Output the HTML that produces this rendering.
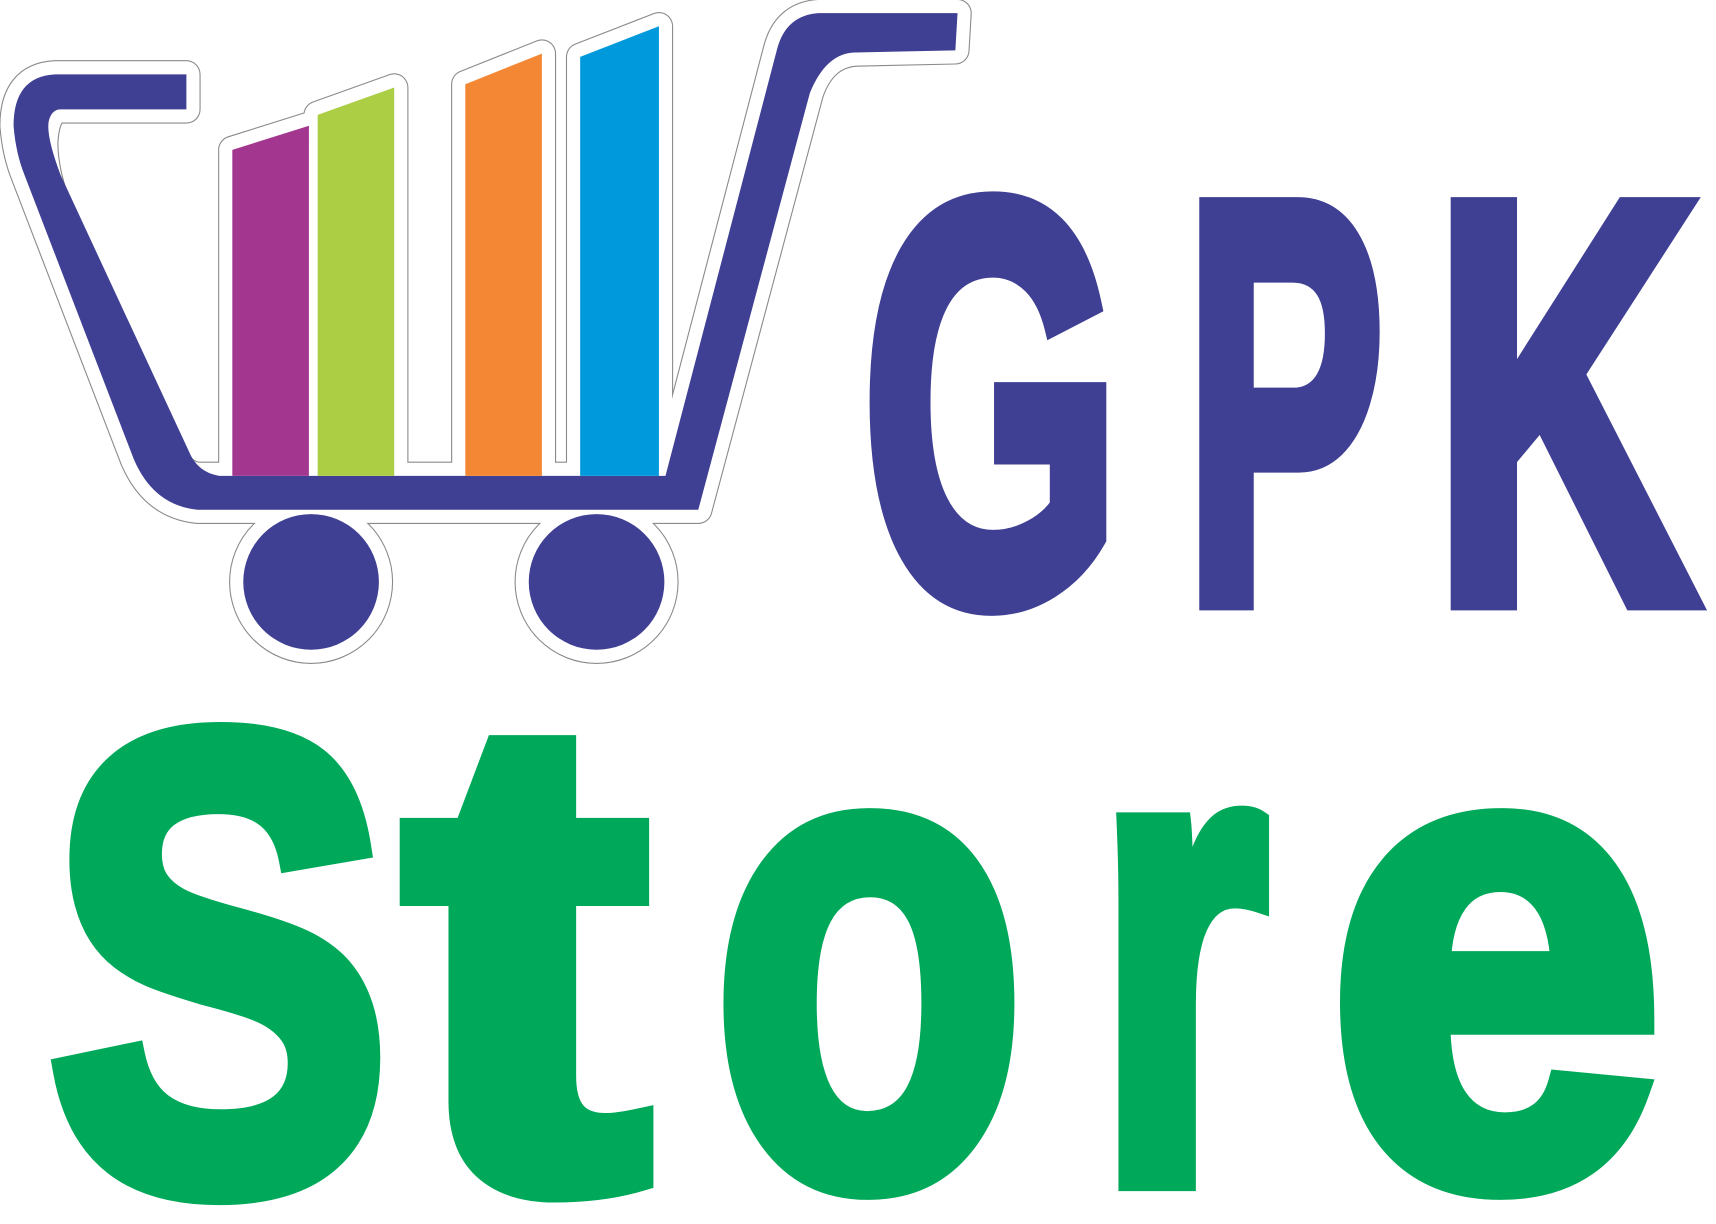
<!DOCTYPE html>
<html><head><meta charset="utf-8"><style>
html,body{margin:0;padding:0;background:#fff;width:1716px;height:1224px;overflow:hidden}
svg{display:block}
text{font-family:"Liberation Sans",sans-serif;font-weight:bold}
</style></head><body>
<svg width="1716" height="1224" viewBox="0 0 1568 1119">
<g stroke-linejoin="round" fill="none">
 <g stroke="#8a8a8a" stroke-width="26">
  <path d="M875,12 L748,12 Q718,14 710,45 L608,435 L180,435 Q160,432 150,400 L55,195 Q40,160 40,130 Q42,100 55,100 L170,100 L170,68 L50,68 Q12,70 12,115 Q14,140 22,160 L122,420 Q140,462 180,466 L638,466 L740,85 Q752,50 782,48 L873,46 Z"/>
  <polygon points="212,137 282,115 282,435 212,435"/><polygon points="290,105 360,80 360,435 290,435"/>
  <polygon points="425,77 495,49 495,435 425,435"/><polygon points="530,52 602,24 602,435 530,435"/>
  <circle cx="284" cy="532" r="62"/><circle cx="545" cy="532" r="62"/>
 </g>
 <g stroke="#fff" stroke-width="24">
  <path d="M875,12 L748,12 Q718,14 710,45 L608,435 L180,435 Q160,432 150,400 L55,195 Q40,160 40,130 Q42,100 55,100 L170,100 L170,68 L50,68 Q12,70 12,115 Q14,140 22,160 L122,420 Q140,462 180,466 L638,466 L740,85 Q752,50 782,48 L873,46 Z"/>
  <polygon points="212,137 282,115 282,435 212,435"/><polygon points="290,105 360,80 360,435 290,435"/>
  <polygon points="425,77 495,49 495,435 425,435"/><polygon points="530,52 602,24 602,435 530,435"/>
  <circle cx="284" cy="532" r="62"/><circle cx="545" cy="532" r="62"/>
 </g>
</g>
<path fill="#3f3f94" d="M875,12 L748,12 Q718,14 710,45 L608,435 L200,435 Q180,432 172,412 L55,160 Q40,120 45,108 Q48,100 55,100 L170,100 L170,68 L50,68 Q12,70 12,115 Q14,140 22,160 L122,420 Q140,462 180,466 L638,466 L740,85 Q755,48 782,48 L873,46 Z"/>
<polygon fill="#a3368f" points="212,137 282,115 282,435 212,435"/>
<polygon fill="#abce45" points="290,105 360,80 360,435 290,435"/>
<polygon fill="#f48733" points="425,77 495,49 495,435 425,435"/>
<polygon fill="#0099dc" points="530,52 602,24 602,435 530,435"/>
<circle cx="284" cy="532" r="62" fill="#3f3f94"/>
<circle cx="545" cy="532" r="62" fill="#3f3f94"/>
<g fill="#3f3f94" stroke="#3f3f94" stroke-width="20" stroke-linejoin="miter">
 <text x="788" y="548" font-size="520" textLength="236" lengthAdjust="spacingAndGlyphs">G</text>
 <text x="1083" y="548" font-size="520" textLength="182" lengthAdjust="spacingAndGlyphs">P</text>
 <text x="1310" y="548" font-size="520" textLength="240" lengthAdjust="spacingAndGlyphs">K</text>
</g>
<g fill="#00a85a" stroke="#00a85a" stroke-width="24" stroke-linejoin="miter">
 <text x="44" y="1084" font-size="590" textLength="312" lengthAdjust="spacingAndGlyphs">S</text>
 <text x="370" y="1082" font-size="610" textLength="222" lengthAdjust="spacingAndGlyphs">t</text>
 <text x="652" y="1079" font-size="610" textLength="284" lengthAdjust="spacingAndGlyphs">o</text>
 <text x="1002" y="1077" font-size="610" textLength="156" lengthAdjust="spacingAndGlyphs">r</text>
 <text x="1214" y="1079" font-size="610" textLength="306" lengthAdjust="spacingAndGlyphs">e</text>
</g>
</svg>
</body></html>
